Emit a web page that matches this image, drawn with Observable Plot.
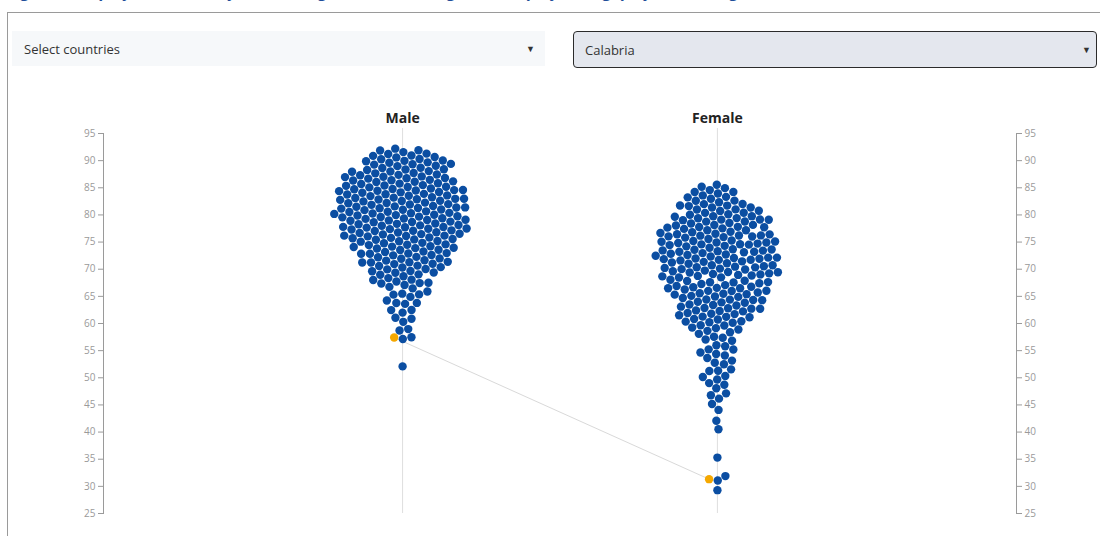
<!DOCTYPE html>
<html>
<head>
<meta charset="utf-8">
<script src="https://cdn.jsdelivr.net/npm/d3@7"></script>
<script src="https://cdn.jsdelivr.net/npm/@observablehq/plot@0.6"></script>
<style>
  html, body { margin: 0; padding: 0; background: #fff; }
  body { width: 1100px; height: 536px; overflow: hidden; position: relative; font-family: "Open Sans", "Noto Sans", sans-serif; }
  #title { position: absolute; left: 8px; top: -20px; font-size: 16px; line-height: 22px; font-weight: bold; font-style: italic; color: #1f4e99; white-space: nowrap; }
  #box { position: absolute; left: 7px; top: 12px; width: 1110px; height: 600px; border: 1px solid #9a9a9a; box-sizing: border-box; }
  .dd { position: absolute; box-sizing: border-box; font-size: 13px; color: #333; display: flex; align-items: center; }
  .dd .caret { position: absolute; font-size: 9px; color: #333; }
  #dd1 { left: 12px; top: 31px; width: 533px; height: 35px; background: #f6f8fa; padding-left: 12px; }
  #dd1 .caret { left: 514px; }
  #dd2 { left: 573px; top: 31px; width: 524px; height: 37px; background: #e4e7ee; border: 1.5px solid #2b2b2b; border-radius: 4px; padding-left: 11px; }
  #dd2 .caret { left: 508px; }
  #chart { position: absolute; left: 0; top: 75px; }
</style>
</head>
<body>
<div id="title">Figure 5: Employment rates by sex and region (%), 2022 — gender employment gap by NUTS 2 region</div>
<div id="box"></div>
<div class="dd" id="dd1">Select countries<span class="caret">▼</span></div>
<div class="dd" id="dd2">Calabria<span class="caret">▼</span></div>
<div id="chart"></div>
<script>
// ---- data (employment rate, %, by region) ----
const sexes = ["Male", "Female"];
const highlightRegion = "Calabria";
const highlightMale = 57.4;
const highlightFemale = 31.3;

const maleRates = [
  91.0, 90.6,
  90.5, 90.3, 90.1, 89.9,
  89.8, 89.7, 89.6, 89.4, 89.3, 89.1, 89.0,
  88.9, 88.8, 88.6, 88.5, 88.4, 88.2, 88.1, 88.0,
  87.9, 87.8, 87.7, 87.5, 87.4, 87.3, 87.2, 87.1, 87.0,
  86.9, 86.8, 86.7, 86.6, 86.5, 86.3, 86.2, 86.1, 86.0, 86.0,
  85.9, 85.9, 85.8, 85.6, 85.5, 85.4, 85.3, 85.2, 85.1, 85.0, 85.0,
  84.9, 84.8, 84.8, 84.7, 84.5, 84.4, 84.3, 84.2, 84.1, 84.1, 84.0, 84.0,
  83.9, 83.8, 83.7, 83.7, 83.6, 83.4, 83.3, 83.2, 83.1, 83.1, 83.0, 83.0,
  82.9, 82.9, 82.8, 82.7, 82.6, 82.5, 82.4, 82.3, 82.2, 82.1, 82.0, 82.0,
  81.9, 81.8, 81.8, 81.7, 81.6, 81.5, 81.4, 81.3, 81.2, 81.1, 81.0, 81.0,
  80.9, 80.9, 80.8, 80.7, 80.6, 80.5, 80.4, 80.3, 80.2, 80.1, 80.0, 80.0,
  79.9, 79.8, 79.8, 79.7, 79.6, 79.5, 79.4, 79.3, 79.2, 79.1, 79.0, 79.0,
  78.9, 78.8, 78.7, 78.6, 78.5, 78.4, 78.3, 78.2, 78.2, 78.1, 78.0, 78.0,
  77.9, 77.8, 77.7, 77.6, 77.5, 77.4, 77.3, 77.2, 77.1, 77.1, 77.0, 77.0,
  76.9, 76.8, 76.7, 76.5, 76.4, 76.3, 76.2, 76.1, 76.1, 76.0, 76.0,
  75.9, 75.8, 75.6, 75.5, 75.4, 75.3, 75.2, 75.1, 75.0, 75.0,
  74.9, 74.8, 74.6, 74.5, 74.3, 74.2, 74.1, 74.0, 74.0,
  73.9, 73.7, 73.6, 73.4, 73.3, 73.1, 73.0, 73.0,
  72.9, 72.7, 72.5, 72.3, 72.2, 72.0, 72.0,
  71.8, 71.6, 71.4, 71.2, 71.1, 71.0,
  70.9, 70.7, 70.5, 70.3, 70.1, 70.0,
  69.8, 69.5, 69.3, 69.1, 69.0,
  68.8, 68.5, 68.2, 68.0,
  67.7, 67.3, 67.0,
  66.8, 66.4, 66.1,
  65.7, 65.3, 65.0,
  64.6, 64.1, 64.0,
  63.5, 63.1,
  62.4, 62.0,
  61.3,
  60.8, 60.4,
  59.0,
  58.7,
  57.5, 57.2,
  52.1
];

const femaleRates = [
  84.2,
  83.9, 83.6,
  83.4, 83.1, 82.9,
  82.7, 82.5, 82.2, 82.0,
  81.9, 81.6, 81.4, 81.2, 81.0,
  80.9, 80.7, 80.5, 80.4, 80.2, 80.1, 80.0,
  79.9, 79.7, 79.6, 79.4, 79.3, 79.2, 79.1, 79.0,
  78.9, 78.8, 78.6, 78.5, 78.4, 78.3, 78.2, 78.1, 78.0,
  77.9, 77.8, 77.7, 77.6, 77.4, 77.3, 77.2, 77.1, 77.0, 77.0,
  76.9, 76.8, 76.7, 76.6, 76.5, 76.4, 76.3, 76.2, 76.1, 76.0, 76.0,
  75.9, 75.8, 75.7, 75.5, 75.4, 75.3, 75.2, 75.1, 75.0, 75.0,
  74.9, 74.8, 74.7, 74.6, 74.5, 74.4, 74.3, 74.2, 74.1, 74.0, 74.0,
  73.9, 73.8, 73.6, 73.5, 73.4, 73.3, 73.2, 73.1, 73.0, 73.0,
  72.9, 72.8, 72.7, 72.6, 72.5, 72.4, 72.3, 72.2, 72.1, 72.0, 72.0,
  71.9, 71.8, 71.6, 71.5, 71.4, 71.3, 71.2, 71.1, 71.0, 71.0,
  70.9, 70.8, 70.7, 70.6, 70.5, 70.4, 70.3, 70.2, 70.1, 70.0, 70.0,
  69.9, 69.8, 69.6, 69.5, 69.4, 69.3, 69.2, 69.1, 69.0, 69.0,
  68.9, 68.8, 68.6, 68.5, 68.4, 68.3, 68.2, 68.1, 68.0, 68.0,
  67.9, 67.7, 67.6, 67.5, 67.3, 67.2, 67.1, 67.0, 67.0,
  66.9, 66.7, 66.5, 66.4, 66.2, 66.1, 66.0, 66.0,
  65.9, 65.7, 65.5, 65.4, 65.2, 65.1, 65.0, 65.0,
  64.9, 64.7, 64.5, 64.3, 64.2, 64.0, 64.0,
  63.8, 63.6, 63.4, 63.2, 63.1, 63.0, 63.0,
  62.8, 62.5, 62.3, 62.2, 62.0, 62.0,
  61.8, 61.5, 61.2, 61.1, 61.0,
  60.8, 60.5, 60.2, 60.0,
  59.7, 59.3, 59.0,
  58.6, 58.3, 58.0,
  57.6, 57.1,
  56.8, 56.4, 56.0,
  55.7, 55.2,
  54.8, 54.4, 54.0,
  53.6, 53.1,
  52.7, 52.3, 52.0,
  51.5, 51.1,
  50.6, 50.2,
  49.7, 49.2,
  48.5, 48.1,
  47.4,
  46.8, 46.2,
  45.3,
  44.1,
  42.0,
  40.6,
  35.3,
  31.8, 31.2,
  29.3
];

const yTicks = [25, 30, 35, 40, 45, 50, 55, 60, 65, 70, 75, 80, 85, 90, 95];

// ---- layout ----
const W = 1100, H = 448, mL = 103, mR = 84, mT = 58, mB = 10;
const blue = "#0b4ea2", orange = "#f5a800";
const yScale = Plot.scale({y: {domain: [25, 95], range: [H - mB, mT]}});
const colScale = Plot.scale({x: {type: "point", domain: sexes, padding: 0.95, range: [mL, W - mR]}});

// beeswarm packing (force layout), converted back to data units for Plot's scales
function swarm(sex, rates, highlight) {
  const rows = [{sex, region: highlightRegion, value: highlight}]
    .concat(rates.map(v => ({sex, region: "other", value: v})));
  const cx = colScale.apply(sex);
  const nodes = rows.map((d, i) => ({d, x: cx + (i % 2 ? 0.5 : -0.5), y: yScale.apply(d.value)}));
  const sim = d3.forceSimulation(nodes)
    .force("x", d3.forceX(cx).strength(0.06))
    .force("y", d3.forceY(n => yScale.apply(n.d.value)).strength(0.55))
    .force("collide", d3.forceCollide(4.4).iterations(3))
    .stop();
  for (let i = 0; i < 400; ++i) sim.tick();
  return nodes.map(n => ({...n.d, px: n.x, py: yScale.invert(n.y)}));
}
const maleData = swarm("Male", maleRates, highlightMale);
const femaleData = swarm("Female", femaleRates, highlightFemale);
const dots = maleData.concat(femaleData);
const hm = maleData[0], hf = femaleData[0];
const linkData = [{x1: hm.px, y1: hm.py, x2: hf.px, y2: hf.py}];

const chart = Plot.plot({
  width: W, height: H,
  marginLeft: mL, marginRight: mR, marginTop: mT, marginBottom: mB,
  style: {fontFamily: "'Open Sans', 'Noto Sans', sans-serif", background: "transparent"},
  x: {type: "identity", axis: null},
  y: {domain: [25, 95], axis: null},
  color: {domain: ["other", highlightRegion], range: [blue, orange]},
  marks: [
    Plot.ruleX(sexes, {x: d => colScale.apply(d), stroke: "#dedede", strokeWidth: 1, insetTop: -5}),
    Plot.text(sexes, {x: d => colScale.apply(d), text: d => d, frameAnchor: "top", dy: -20, fontSize: 14, fontWeight: "bold", fill: "#222"}),
    Plot.link(linkData, {x1: "x1", y1: "y1", x2: "x2", y2: "y2", stroke: "#d9d9d9", strokeWidth: 1}),
    Plot.dot(dots.filter(d => d.region !== highlightRegion), {x: "px", y: "py", r: 4.2, fill: "region"}),
    Plot.dot(dots.filter(d => d.region === highlightRegion), {x: "px", y: "py", r: 4.2, fill: "region"}),
    Plot.frame({anchor: "left", stroke: "#9a9a9a"}),
    Plot.frame({anchor: "right", stroke: "#9a9a9a"}),
    Plot.axisY({anchor: "left", ticks: yTicks, tickSize: 5, tickPadding: 3, fontSize: 10, color: "#9a9a9a", label: null}),
    Plot.axisY({anchor: "right", ticks: yTicks, tickSize: 5, tickPadding: 3, fontSize: 10, color: "#9a9a9a", label: null})
  ]
});
document.getElementById("chart").appendChild(chart);
</script>
</body>
</html>
